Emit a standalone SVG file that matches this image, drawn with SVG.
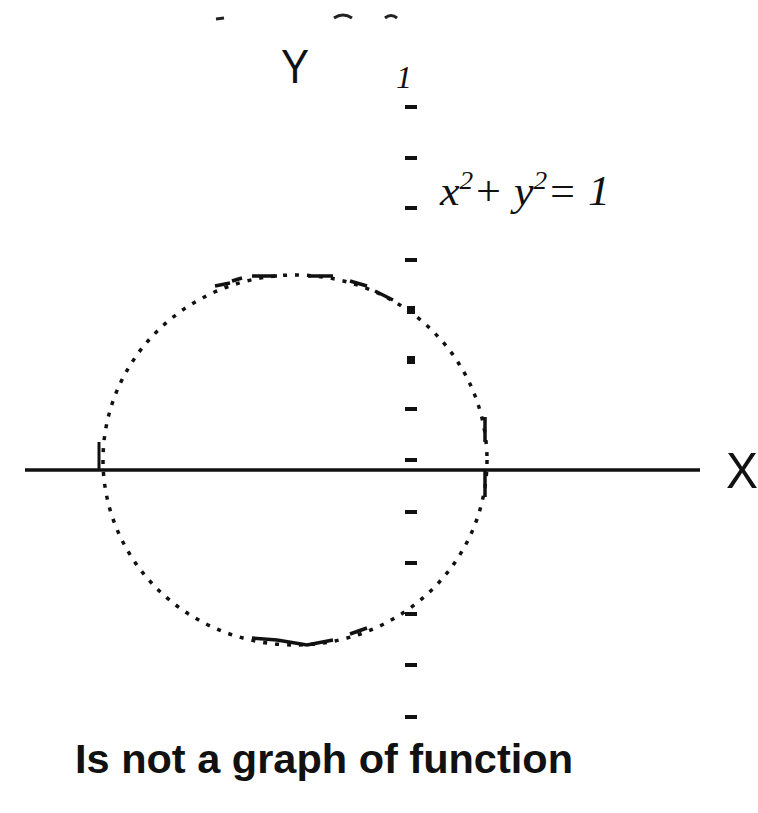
<svg xmlns="http://www.w3.org/2000/svg" width="758" height="813" viewBox="0 0 758 813">
<style>
.lbl{font-family:"Liberation Sans",Arial,sans-serif;fill:#111}
.eq{font-family:"Liberation Serif","Times New Roman",serif;font-style:italic;fill:#111}
.tick{fill:#111}
</style>
<rect width="758" height="813" fill="#fff"/>
<g id="top-fragments" stroke="#222" stroke-width="3" fill="none">
<path d="M216 19 L224 18"/>
<path d="M334 18 Q343 12 352 18"/>
<path d="M385 18 Q391 13 397 18"/>
</g>
<g id="x-axis">
<line x1="25" y1="470" x2="700" y2="470" stroke="#111" stroke-width="3.5"/>
<line x1="99" y1="442" x2="99" y2="470" stroke="#111" stroke-width="3"/>
<text class="lbl" x="726" y="488" font-size="50" textLength="32" lengthAdjust="spacingAndGlyphs">X</text>
</g>
<g id="y-axis">
<rect class="tick" x="405" y="105" width="12" height="4"/>
<rect class="tick" x="405" y="156" width="12" height="4"/>
<rect class="tick" x="405" y="206" width="12" height="4"/>
<rect class="tick" x="405" y="258" width="12" height="4"/>
<rect class="tick" x="407" y="306" width="8" height="8"/>
<rect class="tick" x="407" y="356" width="8" height="8"/>
<rect class="tick" x="405" y="407" width="12" height="4"/>
<rect class="tick" x="405" y="458" width="12" height="4"/>
<rect class="tick" x="405" y="510" width="12" height="4"/>
<rect class="tick" x="405" y="561" width="12" height="4"/>
<rect class="tick" x="405" y="612" width="12" height="4"/>
<rect class="tick" x="405" y="663" width="12" height="4"/>
<rect class="tick" x="405" y="715" width="12" height="4"/>
<text class="lbl" x="281" y="83" font-size="48" textLength="28" lengthAdjust="spacingAndGlyphs">Y</text>
<text class="eq" x="396" y="88" font-size="32">1</text>
</g>
<g id="circle" fill="none" stroke="#111" stroke-width="3.5">
<ellipse cx="295" cy="460" rx="192" ry="185" stroke-dasharray="4 8"/>
<path d="M252 276 L277 276 M308 276 L333 276 M215 286 L230 283 M232 281 L242 278 M350 281 L367 286 M375 291 L393 300"/>
<path d="M252 638 L277 640 L307 645 L333 640 M350 634 L367 628"/>
<line x1="485" y1="417" x2="485" y2="442"/>
<line x1="485" y1="470" x2="485" y2="497"/>
</g>
<g id="equation">
<text class="eq" x="440" y="205" font-size="42" textLength="170" lengthAdjust="spacingAndGlyphs">x<tspan dy="-16" font-size="26">2</tspan><tspan dy="16">+ y</tspan><tspan dy="-16" font-size="26">2</tspan><tspan dy="16">= 1</tspan></text>
</g>
<g id="caption">
<text class="lbl" x="75" y="773" font-size="40" font-weight="bold" textLength="498" lengthAdjust="spacingAndGlyphs">Is not a graph of function</text>
</g>
</svg>
